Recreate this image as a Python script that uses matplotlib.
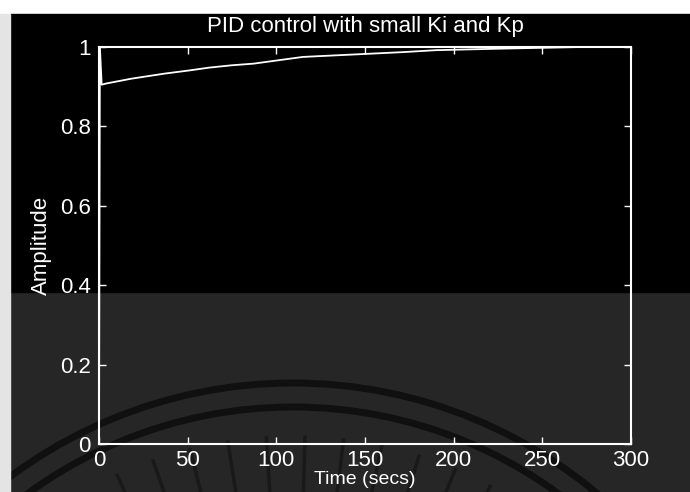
"""
Respuesta PID con Ki y Kp pequenos (captura de MATLAB)
"""

import matplotlib
matplotlib.use("Agg")
import matplotlib.pyplot as plt
from matplotlib.patches import Rectangle, Arc
import numpy as np

# datos
tiempo = [0, 0.5, 1.5, 4, 18, 37, 51, 62, 75, 87, 115, 171, 190, 228, 272, 300]
amplitud = [0, 1.0, 0.905, 0.908, 0.920, 0.933, 0.941, 0.948, 0.954, 0.958,
            0.975, 0.987, 0.992, 0.996, 1.0, 1.0]

xticks = [0, 50, 100, 150, 200, 250, 300]
yticks = [0, 0.2, 0.4, 0.6, 0.8, 1.0]
yticklabels = ["0", "0.2", "0.4", "0.6", "0.8", "1"]


def main():
    plt.rcParams['font.family'] = ['Liberation Sans', 'DejaVu Sans']

    W, H = 690, 492
    fig = plt.figure(figsize=(W / 100, H / 100), dpi=100, facecolor="white")

    # fondo de la captura (en pixeles)
    bg = fig.add_axes([0, 0, 1, 1], zorder=0)
    bg.axis("off")
    bg.add_patch(Rectangle((10, 292), W - 10, H - 292, color="#262626"))
    # marca de agua
    cx, cy = 293, 857
    for r in (474, 450):
        bg.add_patch(Arc((cx, cy), 2 * r, 2 * r, theta1=180, theta2=360,
                         color="#101010", lw=5))
    for ang in np.linspace(-120, -62, 12):
        a = np.deg2rad(ang)
        bg.plot([cx + 365 * np.cos(a), cx + 420 * np.cos(a)],
                [cy + 365 * np.sin(a), cy + 420 * np.sin(a)],
                color="#141414", lw=2.5, alpha=0.7)
    bg.add_patch(Rectangle((10, 14), W - 10, 278, color="black", zorder=3))
    bg.add_patch(Rectangle((0, 14), 10, H - 14, color="#e4e4e4", zorder=4))
    bg.set_xlim(0, W)
    bg.set_ylim(H, 0)

    ax = fig.add_axes([99 / W, (H - 444) / H, 532 / W, 397 / H], zorder=2)
    ax.set_facecolor("none")
    ax.plot(tiempo, amplitud, color="white", lw=1.3)

    ax.set_xlim(0, 300)
    ax.set_ylim(0, 1)
    ax.set_xticks(xticks)
    ax.set_yticks(yticks)
    ax.set_yticklabels(yticklabels)
    ax.tick_params(direction="in", length=5, width=1, colors="white",
                   labelsize=16, top=True, right=True, pad=6)
    ax.tick_params(axis="x", pad=4)
    for s in ax.spines.values():
        s.set_color("white")
        s.set_linewidth(1.5)

    ax.set_title("PID control with small Ki and Kp", color="white",
                 fontsize=16, pad=11)
    ax.set_xlabel("Time (secs)", color="white", fontsize=14, labelpad=0)
    ax.set_ylabel("Amplitude", color="white", fontsize=16, labelpad=6)

    fig.savefig("out.png", dpi=100, facecolor=fig.get_facecolor())


if __name__ == "__main__":
    main()
